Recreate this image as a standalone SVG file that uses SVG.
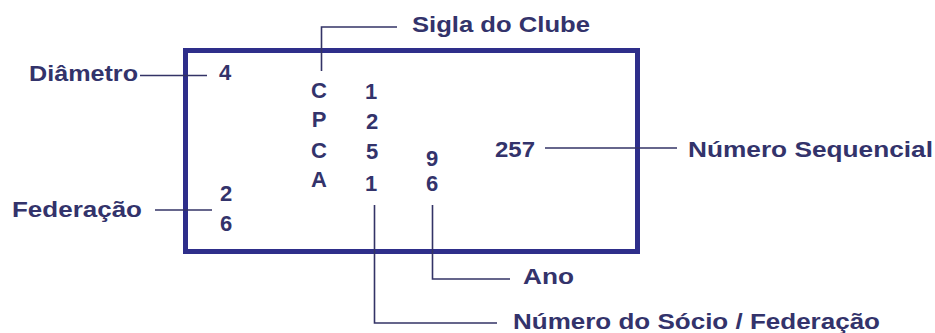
<svg xmlns="http://www.w3.org/2000/svg" width="935" height="333" viewBox="0 0 935 333">
<style>
text{font-family:"Liberation Sans",Arial,sans-serif;font-weight:bold;font-size:22px;fill:#33336b}
.c{text-anchor:middle}
.ln{stroke:#333366;stroke-width:1.6;fill:none}
.box{stroke:#2e2e8a;stroke-width:5;fill:#fff}
</style>
<rect width="935" height="333" fill="#fff"/>
<g id="plate">
<rect class="box" x="185.5" y="50.5" width="452" height="201"/>
</g>
<g id="connectors">
<polyline class="ln" points="397,27 321.5,27 321.5,71"/>
<line class="ln" x1="140" y1="75.5" x2="207" y2="75.5"/>
<line class="ln" x1="545" y1="148" x2="677" y2="148"/>
<line class="ln" x1="155" y1="210" x2="212" y2="210"/>
<polyline class="ln" points="432.5,205 432.5,279 510,279"/>
<polyline class="ln" points="374.5,205 374.5,323 497,323"/>
</g>
<g id="sigla-label"><text x="412" y="32" textLength="178" lengthAdjust="spacingAndGlyphs">Sigla do Clube</text></g>
<g id="diametro-label"><text x="29" y="81" textLength="109" lengthAdjust="spacingAndGlyphs">Diâmetro</text></g>
<g id="diametro-value"><text class="c" x="225" y="80">4</text></g>
<g id="sigla-value">
<text class="c" x="319" y="98">C</text>
<text class="c" x="319" y="127">P</text>
<text class="c" x="319" y="158">C</text>
<text class="c" x="319" y="187">A</text>
</g>
<g id="socio-value">
<text class="c" x="371" y="99">1</text>
<text class="c" x="372" y="129">2</text>
<text class="c" x="372" y="159">5</text>
<text class="c" x="371" y="191">1</text>
</g>
<g id="ano-value">
<text class="c" x="432" y="166">9</text>
<text class="c" x="432" y="191">6</text>
</g>
<g id="seq-value"><text x="495" y="157" textLength="40" lengthAdjust="spacingAndGlyphs">257</text></g>
<g id="seq-label"><text x="688" y="157" textLength="245" lengthAdjust="spacingAndGlyphs">Número Sequencial</text></g>
<g id="fed-label"><text x="12" y="217" textLength="130" lengthAdjust="spacingAndGlyphs">Federação</text></g>
<g id="fed-value">
<text class="c" x="226" y="201">2</text>
<text class="c" x="226" y="231">6</text>
</g>
<g id="ano-label"><text x="523" y="284" textLength="51" lengthAdjust="spacingAndGlyphs">Ano</text></g>
<g id="socio-label"><text x="513" y="329" textLength="367" lengthAdjust="spacingAndGlyphs">Número do Sócio / Federação</text></g>
</svg>
